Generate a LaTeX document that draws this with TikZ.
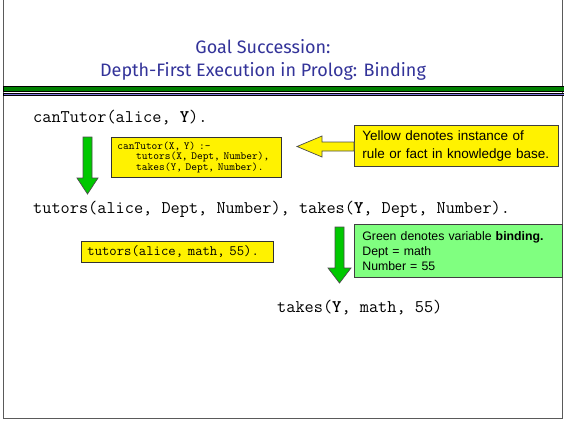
\documentclass[tikz,border=0pt]{standalone}
\usepackage{fontspec}
\setmainfont{Liberation Sans}
\newfontfamily\titlefont{Fira Sans}
\usepackage{tikz}
\usetikzlibrary{positioning}
\definecolor{titleblue}{RGB}{51,51,153}
\definecolor{rulegreen}{RGB}{0,128,0}
\definecolor{ruleblue}{RGB}{128,120,220}
\definecolor{arrowgreen}{RGB}{0,200,0}
\definecolor{notegreen}{RGB}{128,255,128}
\definecolor{framegray}{RGB}{90,90,90}

\begin{document}
\begin{tikzpicture}[x=1pt, y=-1pt,
    title/.style={anchor=base, inner sep=0pt, text=titleblue, font=\titlefont\fontsize{18}{20}\selectfont},
    goal/.style={anchor=base west, inner sep=0pt, font=\fontsize{17.8}{20}\ttfamily},
    kbbox/.style={draw=black!80, fill=yellow, line width=0.8pt, anchor=north west, align=left, inner ysep=0pt},
    notebox/.style={draw=black!75, line width=0.8pt, anchor=north west, align=left, inner ysep=0pt},
    blockarrow/.style={draw=black!70, line width=0.7pt, line join=miter}]
    \useasboundingbox (0,0) rectangle (564,420);
    
    % Frame and title
    \draw[framegray, line width=1.8pt] (3.5,0) -- (3.5,418.5) -- (562.5,418.5) -- (562.5,0);
    \node[title] (t1) at (263,53) {Goal Succession:};
    \node[title] (t2) at (263,76) {Depth-First Execution in Prolog: Binding};
    \draw[fill=rulegreen, line width=0.6pt] (3,86) rectangle (564,91);
    \draw[fill=ruleblue, line width=0.6pt] (3,93) rectangle (564,95.5);
    
    % Goals
    \node[goal] (g1) at (33,122) {canTutor(alice, \textbf{Y}).};
    \node[goal] (g2) at (33,213) {tutors(alice, Dept, Number), takes(\textbf{Y}, Dept, Number).};
    \node[goal] (g3) at (277,312) {takes(\textbf{Y}, math, 55)};
    
    % Knowledge base
    \node[kbbox, minimum width=170, minimum height=40, text width=158, inner xsep=6,
          font=\fontsize{10.9}{10.5}\ttfamily] (rule) at (111,137)
        {canTutor(X, Y) :-\\
         \hspace*{4ex}tutors(X, Dept, Number),\\
         \hspace*{4ex}takes(Y, Dept, Number).};
    \node[kbbox, minimum width=192, minimum height=21, text width=180, inner xsep=6,
          font=\fontsize{14.3}{16}\ttfamily] (fact) at (81,241) {tutors(alice, math, 55).};
    
    % Notes
    \node[notebox, fill=yellow, minimum width=204, minimum height=41, text width=192, inner xsep=6,
          font=\fontsize{13.5}{17.5}\selectfont] (ynote) at (354,125)
        {\hspace*{2pt}Yellow denotes instance of\\\hspace*{2pt}rule or fact in knowledge base.};
    \node[notebox, fill=notegreen, minimum width=208, minimum height=53, text width=192, inner xsep=8,
          font=\fontsize{12.3}{15}\selectfont] (gnote) at (354,224)
        {Green denotes variable \textbf{binding.}\\Dept = math\\Number = 55};
    
    % Block arrows
    \draw[blockarrow, fill=arrowgreen] (83,137) -- (92,137) -- (92,178) -- (98,178) -- (87.5,194)
        -- (77,178) -- (83,178) -- cycle;
    \draw[blockarrow, fill=arrowgreen] (335,227) -- (344,227) -- (344,268) -- (351,268) -- (339.5,283)
        -- (328,268) -- (335,268) -- cycle;
    \draw[blockarrow, fill=yellow] (ynote.west |- 0,142) -- (322,142) -- (322,136) -- (297,146.5)
        -- (322,157) -- (322,151) -- (ynote.west |- 0,151) -- cycle;
\end{tikzpicture}
\end{document}
